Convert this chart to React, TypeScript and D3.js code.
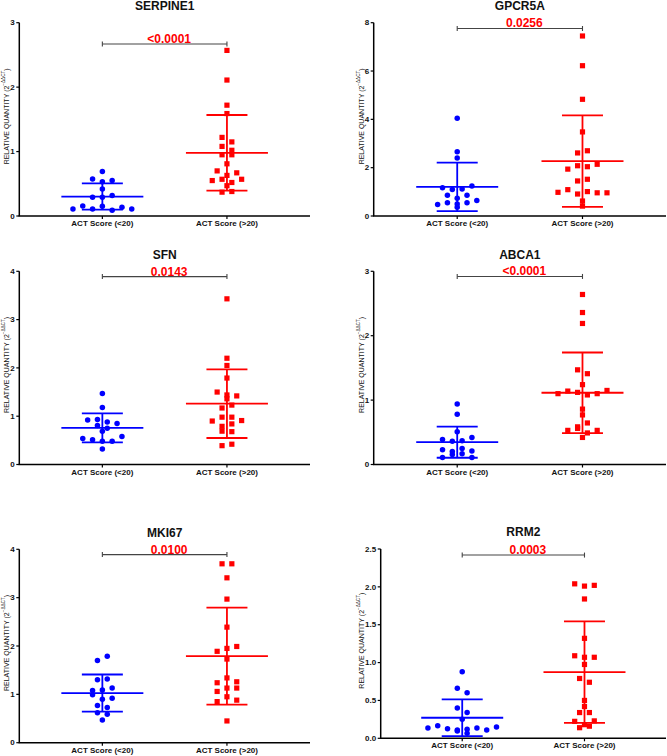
import React from "react";
import * as d3 from "d3";

// ---------- data ----------
const genes = ["SERPINE1", "GPCR5A", "SFN", "ABCA1", "MKI67", "RRM2"];
const groupLabels = ["ACT Score (<20)", "ACT Score (>20)"];
const pValueLabels = ["<0.0001", "0.0256", "0.0143", "<0.0001", "0.0100", "0.0003"];
const yMaxima = [3, 8, 4, 3, 4, 2.5];
const yTickSteps = [1, 2, 1, 1, 1, 0.5];
const yTickFormats = ["d", "d", "d", "d", "d", ".1f"];
const bracketLevels = [2.67, 7.76, 3.89, 2.92, 3.89, 2.42];

const serpine1Low = [0.69, 0.575, 0.53, 0.55, 0.42, 0.29, 0.29, 0.32, 0.11, 0.155, 0.11, 0.15, 0.09, 0.135, 0.11];
const serpine1High = [2.57, 2.11, 1.72, 1.59, 1.22, 1.15, 1.08, 1.02, 0.95, 0.95, 0.81, 0.7, 0.63, 0.67, 0.55, 0.57, 0.52, 0.57, 0.47, 0.37, 0.38];
const gpcr5aLow = [4.05, 2.66, 2.4, 1.17, 1.1, 1.12, 1.24, 0.855, 0.73, 0.855, 0.48, 0.55, 0.5, 0.55, 0.64, 0.36];
const gpcr5aHigh = [7.45, 6.22, 4.83, 3.48, 2.61, 2.7, 1.94, 2.08, 2.04, 2.14, 1.45, 1.52, 0.98, 1.09, 0.91, 1.01, 0.96, 0.96, 0.62, 0.41];
const sfnLow = [1.47, 1.18, 0.92, 0.93, 0.88, 0.85, 0.81, 0.75, 0.69, 0.54, 0.51, 0.48, 0.48, 0.58, 0.32];
const sfnHigh = [3.43, 2.2, 2.05, 1.79, 1.5, 1.44, 1.42, 1.36, 1.17, 1.23, 0.9, 0.98, 0.98, 0.91, 0.79, 0.84, 0.69, 0.68, 0.39, 0.42];
const abca1Low = [0.94, 0.78, 0.51, 0.39, 0.36, 0.37, 0.42, 0.23, 0.2, 0.25, 0.21, 0.11, 0.155, 0.165, 0.11];
const abca1High = [2.64, 2.36, 2.19, 1.47, 1.41, 1.24, 1.1, 1.14, 1.12, 1.08, 1.1, 1.15, 0.86, 0.77, 0.585, 0.53, 0.56, 0.645, 0.49, 0.53, 0.42];
const mki67Low = [1.7, 1.79, 1.3, 1.32, 1.08, 1.09, 1.13, 0.99, 0.9, 0.92, 0.77, 0.73, 0.62, 0.59, 0.47];
const mki67High = [3.7, 3.7, 3.41, 2.97, 2.39, 1.89, 1.95, 1.99, 1.73, 1.24, 1.34, 1.26, 1.06, 1.13, 1.13, 0.85, 0.95, 0.88, 0.45];
const rrm2Low = [0.88, 0.66, 0.6, 0.4, 0.34, 0.25, 0.136, 0.166, 0.127, 0.11, 0.12, 0.136, 0.11, 0.149, 0.096, 0.066];
const rrm2High = [2.04, 2.01, 2.02, 1.84, 1.32, 1.09, 1.07, 1.07, 0.975, 0.79, 0.74, 0.5, 0.42, 0.34, 0.34, 0.224, 0.18, 0.23, 0.14, 0.16];

const lowScoreValues = [serpine1Low, gpcr5aLow, sfnLow, abca1Low, mki67Low, rrm2Low];
const highScoreValues = [serpine1High, gpcr5aHigh, sfnHigh, abca1High, mki67High, rrm2High];

// ---------- layout ----------
const WIDTH = 667;
const HEIGHT = 756;
const FONT = "'Liberation Sans', Arial, Helvetica, sans-serif";
const BLUE = "#0000ff";
const RED = "#ff0000";
const frames = [
  { x0: 19.3, x1: 310, yTop: 22.7, yBot: 216, labelX: 6 },
  { x0: 373.7, x1: 666, yTop: 22.7, yBot: 216, labelX: 361 },
  { x0: 19.3, x1: 310, yTop: 271.3, yBot: 464.5, labelX: 6 },
  { x0: 373.7, x1: 666, yTop: 271.3, yBot: 464.5, labelX: 361 },
  { x0: 19.3, x1: 310, yTop: 549.3, yBot: 742.7, labelX: 6 },
  { x0: 380.7, x1: 666, yTop: 549, yBot: 738.3, labelX: 361 },
];
const SWARM_STEP = 9.8;
const ROW_THRESH = 5;
const MEAN_HALF = 41;
const CAP_HALF = 20.5;

function swarmOffsets(values: number[], y: (v: number) => number): number[] {
  const order = d3.range(values.length).sort((a, b) => values[b] - values[a] || a - b);
  const offsets = new Array(values.length).fill(0);
  let row: number[] = [];
  let startY = 0;
  const flush = () => {
    const r = row.slice().sort((a, b) => a - b);
    r.forEach((k, i) => {
      offsets[k] = (i - (r.length - 1) / 2) * SWARM_STEP;
    });
  };
  order.forEach((k) => {
    const py = y(values[k]);
    if (row.length && Math.abs(py - startY) <= ROW_THRESH) row.push(k);
    else {
      if (row.length) flush();
      row = [k];
      startY = py;
    }
  });
  if (row.length) flush();
  return offsets;
}

function Panel({ index }: { index: number }) {
  const f = frames[index];
  const x = d3.scalePoint<string>().domain(groupLabels).range([f.x0, f.x1]).padding(2 / 3);
  const y = d3.scaleLinear().domain([0, yMaxima[index]]).range([f.yBot, f.yTop]);
  const ticks = d3.range(0, yMaxima[index] + 1e-9, yTickSteps[index]);
  const fmt = d3.format(yTickFormats[index]);
  const groups = [lowScoreValues[index], highScoreValues[index]];
  const colors = [BLUE, RED];
  const gx0 = x(groupLabels[0])!;
  const gx1 = x(groupLabels[1])!;
  const mid = (gx0 + gx1) / 2;
  const by = y(bracketLevels[index]);
  const axisMid = (f.yTop + f.yBot) / 2 - 3;

  return (
    <g>
      {/* title */}
      <text x={mid} y={f.yTop - 12.6} textAnchor="middle" fontFamily={FONT} fontWeight="bold" fontSize={12} fill="#111">
        {genes[index]}
      </text>

      {/* y axis */}
      <line x1={f.x0} x2={f.x0} y1={f.yTop} y2={f.yBot} stroke="#000" strokeWidth={1.5} />
      {ticks.map((t) => (
        <g key={t}>
          <line x1={f.x0 - 3} x2={f.x0} y1={y(t)} y2={y(t)} stroke="#000" strokeWidth={1.2} />
          <text x={f.x0 - 4.5} y={y(t)} dy="0.34em" textAnchor="end" fontFamily={FONT} fontWeight="bold" fontSize={8} fill="#111">
            {fmt(t)}
          </text>
        </g>
      ))}
      <text
        transform={`translate(${f.labelX},${axisMid}) rotate(-90)`}
        textAnchor="middle"
        dominantBaseline="central"
        fontFamily={FONT}
        fontSize={7}
        fill="#111"
      >
        <tspan>RELATIVE QUANTITY (2</tspan>
        <tspan fontSize={4.6} dy={-2.8}>−ΔΔCT</tspan>
        <tspan dy={2.8}>)</tspan>
      </text>

      {/* x axis */}
      <line x1={f.x0 - 0.75} x2={f.x1} y1={f.yBot} y2={f.yBot} stroke="#000" strokeWidth={1.5} />
      {groupLabels.map((g) => (
        <g key={g}>
          <line x1={x(g)!} x2={x(g)!} y1={f.yBot} y2={f.yBot + 3} stroke="#000" strokeWidth={1.2} />
          <text x={x(g)!} y={f.yBot + 10} textAnchor="middle" fontFamily={FONT} fontWeight="bold" fontSize={8} fill="#111">
            {g}
          </text>
        </g>
      ))}

      {/* significance bracket */}
      <g stroke="#444" strokeWidth={1.1}>
        <line x1={gx0} x2={gx1} y1={by} y2={by} />
        <line x1={gx0} x2={gx0} y1={by - 2.5} y2={by + 2.5} />
        <line x1={gx1} x2={gx1} y1={by - 2.5} y2={by + 2.5} />
      </g>
      <text x={mid + 4.5} y={by - 1} textAnchor="middle" fontFamily={FONT} fontWeight="bold" fontSize={12} fill={RED}>
        {pValueLabels[index]}
      </text>

      {/* points and mean ± SD */}
      {groups.map((vals, gi) => {
        const cx = x(groupLabels[gi])!;
        const offs = swarmOffsets(vals, y);
        const m = d3.mean(vals)!;
        const sd = d3.deviation(vals)!;
        const c = colors[gi];
        return (
          <g key={gi}>
            {vals.map((v, k) =>
              gi === 0 ? (
                <circle key={k} cx={cx + offs[k]} cy={y(v)} r={2.75} fill={c} />
              ) : (
                <rect key={k} x={cx + offs[k] - 2.6} y={y(v) - 2.6} width={5.2} height={5.2} fill={c} />
              )
            )}
            <g stroke={c} strokeWidth={1.8}>
              <line x1={cx - MEAN_HALF} x2={cx + MEAN_HALF} y1={y(m)} y2={y(m)} />
              <line x1={cx} x2={cx} y1={y(m + sd)} y2={y(Math.max(0, m - sd))} />
              <line x1={cx - CAP_HALF} x2={cx + CAP_HALF} y1={y(m + sd)} y2={y(m + sd)} />
              <line x1={cx - CAP_HALF} x2={cx + CAP_HALF} y1={y(Math.max(0, m - sd))} y2={y(Math.max(0, m - sd))} />
            </g>
          </g>
        );
      })}
    </g>
  );
}

export default function App() {
  return (
    <svg
      width={WIDTH}
      height={HEIGHT}
      viewBox={`0 0 ${WIDTH} ${HEIGHT}`}
      style={{ position: "absolute", left: 0, top: 0, background: "#fff" }}
    >
      <rect width={WIDTH} height={HEIGHT} fill="#fff" />
      {genes.map((g, i) => (
        <Panel key={g} index={i} />
      ))}
    </svg>
  );
}
